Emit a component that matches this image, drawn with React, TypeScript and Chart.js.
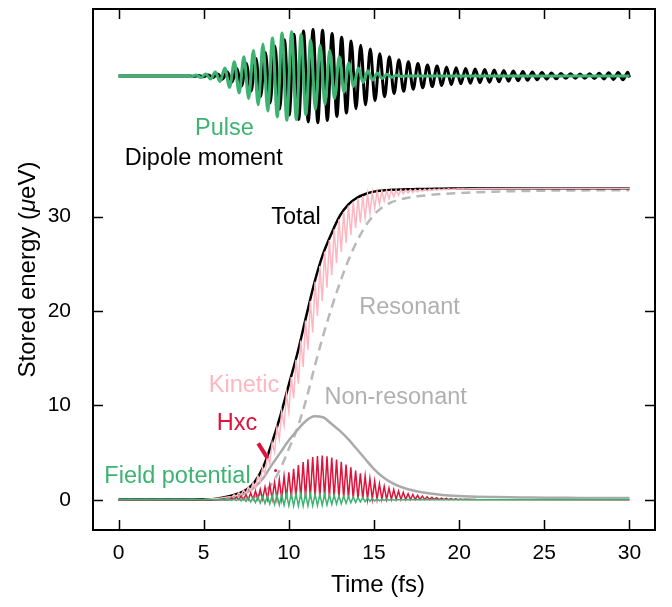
import { useEffect, useRef } from "react";
import { Chart, registerables } from "chart.js";

Chart.register(...registerables);

const FONT = "'Liberation Sans', Arial, Helvetica, sans-serif";

// ---- axes ----
const X_TICKS = [0, 5, 10, 15, 20, 25, 30];
const Y_TICKS = [0, 10, 20, 30];
const X_MIN = -1.5;
const X_MAX = 31.5;
const Y_MIN = -3.2;
const Y_MAX = 52;

// ---- smooth energy curves ----
const ENERGY_T = [0, 2, 4, 5, 5.5, 6, 6.5, 7, 7.5, 8, 8.5, 9, 9.5, 10, 10.5, 11, 11.5, 12, 12.5, 13, 13.5, 14, 14.5, 15, 15.5, 16, 16.5, 17, 17.5, 18, 19, 20, 21, 22, 23, 24, 25, 26, 27, 28, 29, 30];
const TOTAL = [0, 0, 0.01, 0.03, 0.07, 0.2, 0.38, 0.65, 1.05, 1.9, 3.5, 6.0, 8.9, 12.2, 15.5, 19.3, 23.0, 26.0, 28.2, 30.1, 31.3, 32.0, 32.4, 32.65, 32.78, 32.84, 32.87, 32.9, 32.92, 32.94, 32.96, 32.98, 33.0, 33.0, 33.0, 33.0, 33.0, 33.0, 33.0, 33.0, 33.0, 33.0];
const RESONANT = [0, 0, 0, 0, 0, 0, 0.01, 0.03, 0.1, 0.3, 0.8, 1.7, 3.3, 5.4, 7.6, 10.5, 14.0, 17.3, 20.3, 23.0, 25.4, 27.4, 29.0, 30.2, 31.0, 31.5, 31.8, 32.0, 32.15, 32.25, 32.4, 32.5, 32.58, 32.64, 32.69, 32.72, 32.75, 32.77, 32.78, 32.79, 32.8, 32.8];
const NON_RESONANT = [0, 0, 0, 0.01, 0.03, 0.07, 0.18, 0.38, 0.75, 1.35, 2.3, 3.7, 5.0, 6.3, 7.4, 8.35, 8.85, 8.75, 8.05, 7.3, 6.4, 5.35, 4.3, 3.25, 2.45, 1.85, 1.42, 1.12, 0.9, 0.75, 0.52, 0.4, 0.33, 0.29, 0.26, 0.24, 0.22, 0.21, 0.2, 0.2, 0.19, 0.19];

// ---- fast (2w) energy oscillations, sampled at each turning point ----
const FAST_T0 = 6.5;
const FAST_STEP = 0.14;
const HXC = [
  0.02, 0.19, 0.02, 0.28, 0.02, 0.40, 0.02, 0.54, 0.03, 0.73,
  0.04, 0.93, 0.05, 1.12, 0.06, 1.34, 0.07, 1.59, 0.08, 1.86,
  0.09, 2.14, 0.10, 2.51, 0.11, 2.90, 0.12, 3.29, 0.13, 3.67,
  0.14, 4.01, 0.15, 4.30, 0.15, 4.52, 0.15, 4.64, 0.15, 4.70,
  0.15, 4.60, 0.15, 4.48, 0.14, 4.26, 0.14, 4.02, 0.13, 3.74,
  0.12, 3.43, 0.11, 3.10, 0.10, 2.80, 0.09, 2.52, 0.08, 2.24,
  0.07, 1.96, 0.06, 1.68, 0.05, 1.43, 0.05, 1.23, 0.04, 1.07,
  0.04, 0.93, 0.03, 0.79, 0.03, 0.65, 0.03, 0.57, 0.02, 0.48,
  0.02, 0.40, 0.02, 0.33, 0.02, 0.27, 0.02, 0.22, 0.02, 0.18,
  0.02, 0.15, 0.02, 0.12, 0.02, 0.10, 0.02, 0.08, 0.02, 0.06,
];
const HXC_LEAD_T = [0, 6.3];
const HXC_LEAD = [0, 0.01];
const HXC_TAIL_T = [21, 30];
const HXC_TAIL = [0.02, 0.01];

const KINETIC = [
  0.33, 0.26, 0.53, 0.36, 0.74, 0.50, 1.02, 0.64, 1.36, 0.89,
  1.80, 1.20, 2.53, 1.90, 3.41, 2.74, 4.68, 3.83, 6.04, 5.07,
  7.65, 6.41, 9.33, 7.84, 11.17, 9.30, 13.00, 10.76, 14.84, 12.29,
  16.88, 14.07, 19.00, 15.89, 21.07, 17.74, 23.09, 19.44, 24.77, 21.06,
  26.29, 22.46, 27.52, 23.80, 28.67, 25.08, 29.73, 26.27, 30.50, 27.22,
  31.18, 28.07, 31.58, 28.79, 31.95, 29.36, 32.18, 29.86, 32.39, 30.32,
  32.57, 30.90, 32.67, 31.30, 32.74, 31.65, 32.77, 31.92, 32.81, 32.10,
  32.82, 32.25, 32.85, 32.42, 32.85, 32.51, 32.87, 32.56, 32.88, 32.62,
  32.90, 32.68, 32.91, 32.73, 32.92, 32.78, 32.92, 32.81, 32.93, 32.84,
  32.93, 32.86, 32.94, 32.89, 32.94, 32.90, 32.95, 32.92, 32.95, 32.93,
];
const KINETIC_LEAD_T = [0, 5, 6];
const KINETIC_LEAD = [0, 0.02, 0.2];
const KINETIC_TAIL_T = [21, 25, 30];
const KINETIC_TAIL = [32.97, 33.0, 33.0];

const FIELD_POT = [
  0.05, -0.06, 0.08, -0.09, 0.11, -0.13, 0.15, -0.18, 0.20, -0.23,
  0.26, -0.29, 0.32, -0.34, 0.37, -0.40, 0.42, -0.45, 0.47, -0.50,
  0.52, -0.54, 0.56, -0.58, 0.60, -0.62, 0.63, -0.64, 0.65, -0.66,
  0.66, -0.66, 0.66, -0.65, 0.64, -0.63, 0.62, -0.61, 0.59, -0.58,
  0.56, -0.54, 0.52, -0.50, 0.48, -0.45, 0.43, -0.41, 0.39, -0.36,
  0.34, -0.32, 0.30, -0.27, 0.25, -0.23, 0.21, -0.19, 0.18, -0.16,
  0.14, -0.13, 0.11, -0.10, 0.08, -0.07, 0.06, -0.05, 0.04, -0.03,
];
const FIELD_LEAD_T = [0, 6.3];
const FIELD_LEAD = [0, 0];
const FIELD_TAIL_T = [16.4, 30];
const FIELD_TAIL = [0, 0];

// ---- pulse and dipole (w), offset trace, sampled at each turning point ----
const PULSE_T0 = 4.0;
const PULSE_STEP = 0.28;
const PULSE = [
  44.95, 44.82, 45.02, 44.73, 45.12, 44.58, 45.32, 44.32, 45.75, 43.70,
  46.40, 43.10, 46.95, 42.53, 47.60, 41.85, 48.28, 41.20, 48.94, 40.57,
  49.45, 40.20, 49.60, 40.28, 49.30, 40.80, 48.72, 41.36, 48.16, 41.92,
  47.60, 42.52, 46.95, 43.20, 46.28, 43.80, 45.75, 44.22, 45.45, 44.47,
  45.23, 44.64, 45.10, 44.76, 44.98, 44.86,
];
const PULSE_LEAD_T = [0, 3.8];
const PULSE_LEAD = [44.9, 44.9];
const PULSE_TAIL_T = [16.8, 30];
const PULSE_TAIL = [44.9, 44.9];

const DIPOLE_T0 = 4.42;
const DIPOLE_STEP = 0.28;
const DIPOLE = [
  44.87, 44.95, 44.83, 45.00, 44.75, 45.11, 44.57, 45.36, 44.27, 45.73,
  43.85, 46.22, 43.30, 46.78, 42.73, 47.40, 42.05, 48.08, 41.38, 48.75,
  40.76, 49.32, 40.29, 49.67, 40.04, 49.82, 39.95, 49.75, 40.19, 49.40,
  40.62, 49.02, 40.98, 48.60, 41.43, 48.15, 41.85, 47.75, 42.30, 47.27,
  42.70, 46.93, 43.04, 46.63, 43.28, 46.40, 43.51, 46.22, 43.65, 46.08,
  43.78, 45.97, 43.89, 45.85, 43.99, 45.77, 44.07, 45.69, 44.14, 45.63,
  44.20, 45.58, 44.24, 45.54, 44.28, 45.49, 44.34, 45.43, 44.40, 45.37,
  44.45, 45.32, 44.51, 45.26, 44.57, 45.21, 44.61, 45.17, 44.65, 45.14,
  44.67, 45.12, 44.67, 45.15, 44.63, 45.19, 44.59, 45.24, 44.54, 45.28,
  44.50, 45.31,
];
const DIPOLE_LEAD_T = [0, 4.2];
const DIPOLE_LEAD = [44.9, 44.9];
const DIPOLE_TAIL_T = [30];
const DIPOLE_TAIL = [44.75];

// ---- text annotations (data coordinates) ----
const LABEL_TEXT = ["Pulse", "Dipole moment", "Total", "Resonant", "Non-resonant", "Kinetic", "Hxc", "Field potential"];
const LABEL_X = [6.22, 5.0, 10.42, 17.09, 16.27, 7.37, 6.96, 3.46];
const LABEL_Y = [39.35, 36.18, 29.93, 20.39, 10.86, 12.13, 8.05, 2.49];
const LABEL_COLOR = ["#3cb371", "#000000", "#000000", "#b0b0b0", "#b0b0b0", "#ffb6c1", "#dc143c", "#3cb371"];
const HXC_POINTER_X = [8.2, 8.75];
const HXC_POINTER_Y = [5.98, 4.4];
const HXC_DOT = [9.22, 3.1];

const GREEN = "#3cb371";
const PINK = "#ffb6c1";
const CRIMSON = "#dc143c";

type P = { x: number; y: number };
function pairs(ts: number[], vs: number[]): P[] {
  return ts.map((t, i) => ({ x: t, y: vs[i] }));
}
function gridded(t0: number, step: number, vs: number[]): P[] {
  return vs.map((v, i) => ({ x: +(t0 + step * i).toFixed(4), y: v }));
}
function series(leadT: number[], lead: number[], t0: number, step: number, vs: number[], tailT: number[], tail: number[]): P[] {
  return [...pairs(leadT, lead), ...gridded(t0, step, vs), ...pairs(tailT, tail)];
}

const LABEL_FONT = 23.5;
const TITLE_FONT = 24;

const decorPlugin = {
  id: "decor",
  afterDraw(chart: any) {
    const { ctx, chartArea: a, scales } = chart;
    const xs = scales.x;
    const ys = scales.y;
    ctx.save();
    // frame
    ctx.strokeStyle = "#000";
    ctx.lineWidth = 2;
    ctx.strokeRect(a.left, a.top, a.right - a.left, a.bottom - a.top);
    // inward ticks
    ctx.lineWidth = 1.5;
    const TL = 10;
    ctx.beginPath();
    for (const v of X_TICKS) {
      const px = Math.round(xs.getPixelForValue(v)) + 0.5;
      ctx.moveTo(px, a.bottom);
      ctx.lineTo(px, a.bottom - TL);
      ctx.moveTo(px, a.top);
      ctx.lineTo(px, a.top + TL);
    }
    for (const v of Y_TICKS) {
      const py = Math.round(ys.getPixelForValue(v)) + 0.5;
      ctx.moveTo(a.left, py);
      ctx.lineTo(a.left + TL, py);
      ctx.moveTo(a.right, py);
      ctx.lineTo(a.right - TL, py);
    }
    ctx.stroke();

    // annotations
    ctx.font = `${LABEL_FONT}px ${FONT}`;
    ctx.textAlign = "center";
    ctx.textBaseline = "middle";
    LABEL_TEXT.forEach((txt, i) => {
      ctx.fillStyle = LABEL_COLOR[i];
      ctx.fillText(txt, xs.getPixelForValue(LABEL_X[i]), ys.getPixelForValue(LABEL_Y[i]));
    });
    // Hxc pointer
    ctx.strokeStyle = CRIMSON;
    ctx.lineWidth = 4;
    ctx.beginPath();
    ctx.moveTo(xs.getPixelForValue(HXC_POINTER_X[0]), ys.getPixelForValue(HXC_POINTER_Y[0]));
    ctx.lineTo(xs.getPixelForValue(HXC_POINTER_X[1]), ys.getPixelForValue(HXC_POINTER_Y[1]));
    ctx.stroke();
    ctx.fillStyle = CRIMSON;
    ctx.beginPath();
    ctx.arc(xs.getPixelForValue(HXC_DOT[0]), ys.getPixelForValue(HXC_DOT[1]), 1.5, 0, Math.PI * 2);
    ctx.fill();

    // axis titles
    ctx.fillStyle = "#000";
    ctx.font = `${TITLE_FONT}px ${FONT}`;
    ctx.textAlign = "center";
    ctx.textBaseline = "middle";
    ctx.fillText("Time (fs)", (a.left + a.right) / 2 + 4, 577);

    const parts = [
      { t: "Stored energy (", f: `${TITLE_FONT}px ${FONT}` },
      { t: "\u03bc", f: `italic ${TITLE_FONT}px ${FONT}` },
      { t: "eV)", f: `${TITLE_FONT}px ${FONT}` },
    ];
    let total = 0;
    const widths = parts.map((p) => {
      ctx.font = p.f;
      const w = ctx.measureText(p.t).width;
      total += w;
      return w;
    });
    ctx.translate(20, (a.top + a.bottom) / 2);
    ctx.rotate(-Math.PI / 2);
    ctx.textAlign = "left";
    let cx = -total / 2;
    parts.forEach((p, i) => {
      ctx.font = p.f;
      ctx.fillText(p.t, cx, 0);
      cx += widths[i];
    });
    ctx.restore();
  },
};

export default function App() {
  const ref = useRef<HTMLCanvasElement>(null);
  useEffect(() => {
    const line = (data: P[], color: string, width: number, order: number, extra: any = {}) => ({
      data,
      borderColor: color,
      backgroundColor: color,
      borderWidth: width,
      pointRadius: 0,
      fill: false,
      order,
      ...extra,
    });
    const chart = new Chart(ref.current!, {
      type: "line",
      data: {
        datasets: [
          line(series(PULSE_LEAD_T, PULSE_LEAD, PULSE_T0, PULSE_STEP, PULSE, PULSE_TAIL_T, PULSE_TAIL), GREEN, 3, 1, { cubicInterpolationMode: "monotone" }),
          line(series(DIPOLE_LEAD_T, DIPOLE_LEAD, DIPOLE_T0, DIPOLE_STEP, DIPOLE, DIPOLE_TAIL_T, DIPOLE_TAIL), "#000000", 3, 2, { cubicInterpolationMode: "monotone" }),
          line(series(FIELD_LEAD_T, FIELD_LEAD, FAST_T0, FAST_STEP, FIELD_POT, FIELD_TAIL_T, FIELD_TAIL), GREEN, 1.5, 3),
          line(series(HXC_LEAD_T, HXC_LEAD, FAST_T0, FAST_STEP, HXC, HXC_TAIL_T, HXC_TAIL), CRIMSON, 1.5, 4),
          line(series(KINETIC_LEAD_T, KINETIC_LEAD, FAST_T0, FAST_STEP, KINETIC, KINETIC_TAIL_T, KINETIC_TAIL), PINK, 1.5, 5),
          line(pairs(ENERGY_T, TOTAL), "#000000", 2.5, 6, { cubicInterpolationMode: "monotone" }),
          line(pairs(ENERGY_T, NON_RESONANT), "#aaaaaa", 2.5, 7, { cubicInterpolationMode: "monotone" }),
          line(pairs(ENERGY_T, RESONANT), "#b8b8b8", 2.5, 8, { cubicInterpolationMode: "monotone", borderDash: [9, 6] }),
        ],
      },
      options: {
        responsive: false,
        animation: false,
        events: [],
        layout: { padding: { top: 1, right: 9, left: 0, bottom: 0 } },
        plugins: { legend: { display: false }, tooltip: { enabled: false }, title: { display: false } },
        scales: {
          x: {
            type: "linear",
            min: X_MIN,
            max: X_MAX,
            afterBuildTicks: (axis: any) => {
              axis.ticks = X_TICKS.map((v) => ({ value: v }));
            },
            afterFit: (s: any) => {
              s.height = 69;
              s.paddingLeft = 0;
              s.paddingRight = 0;
            },
            grid: { display: false },
            border: { display: false },
            ticks: { font: { family: FONT, size: 21 }, color: "#000", padding: 3, maxRotation: 0, autoSkip: false },
          },
          y: {
            type: "linear",
            min: Y_MIN,
            max: Y_MAX,
            afterBuildTicks: (axis: any) => {
              axis.ticks = Y_TICKS.map((v) => ({ value: v }));
            },
            afterFit: (s: any) => {
              s.width = 85;
              s.paddingTop = 0;
              s.paddingBottom = 0;
            },
            grid: { display: false },
            border: { display: false },
            ticks: { font: { family: FONT, size: 21 }, color: "#000", padding: 14, autoSkip: false },
          },
        },
      },
      plugins: [decorPlugin],
    } as any);
    return () => chart.destroy();
  }, []);
  return (
    <div style={{ width: 656, height: 591 }}>
      <canvas ref={ref} width={656} height={591} style={{ display: "block" }} />
    </div>
  );
}
